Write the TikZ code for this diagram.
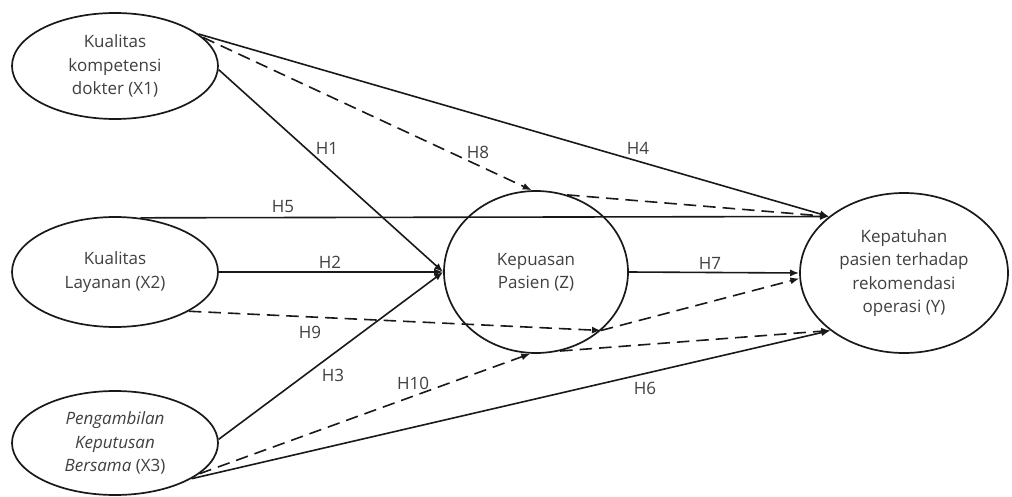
\documentclass[tikz,border=0pt]{standalone}
\usepackage{fontspec}
\setmainfont{Open Sans}
\usetikzlibrary{shapes.geometric,arrows.meta}
\begin{document}
\begin{tikzpicture}[x=1pt,y=-1pt,
  var/.style={draw=black!90, line width=1.7pt, ellipse, inner sep=0pt, align=center,
    text=black!75, font=\fontsize{17}{23.3}\selectfont},
  lab/.style={text=black!75, font=\fontsize{17}{20}\selectfont, inner sep=0pt},
  arr/.style={draw=black!90, line width=1.6pt, -{Latex[length=9pt,width=7pt]}},
  dsh/.style={arr, dash pattern=on 12.5pt off 7pt}]
\useasboundingbox (0,0) rectangle (1012,497);
\fill[white] (0,0) rectangle (1012,497);
% variables
\node[var, minimum width=206pt, minimum height=106pt] (X1) at (115,66) {Kualitas\\kompetensi\\dokter (X1)};
\node[var, minimum width=206pt, minimum height=110pt] (X2) at (115,272) {Kualitas\\Layanan (X2)};
\node[var, minimum width=206pt, minimum height=104pt] (X3) at (115,443) {\itshape Pengambilan\\\itshape Keputusan\\\itshape Bersama\upshape{} (X3)};
\node[var, minimum width=184pt, minimum height=162pt] (Z) at (536,272) {Kepuasan\\Pasien (Z)};
\node[var, minimum width=208pt, minimum height=160pt] (Y) at (904,273) {Kepatuhan\\pasien terhadap\\rekomendasi\\operasi (Y)};
% connectors
\draw[arr] (X1.-2) -- (Z.180);
\draw[dsh] (X1.18) -- (Z.93);
\draw[arr] (X1.21) -- (Y.143.6);
\draw[arr] (X2.65) -- (Y.143.6);
\draw[dsh] (Z.68) -- (Y.143.6);
\draw[arr] (X2.0) -- (Z.180);
\draw[arr] (X3.2) -- (Z.180);
\draw[arr] (Z.0) -- (Y.180);
\draw[dsh] (X2.-28) -- (Z.-42);
\draw[dsh] (Z.-42) -- (Y.183);
\draw[dsh] (X3.-20) -- (Z.-94);
\draw[dsh] (Z.-73) -- (Y.218.6);
\draw[arr] (X3.-25) -- (Y.218.6);
% labels
\node[lab] (h1) at (327,148) {H1};
\node[lab] (h8) at (478,152) {H8};
\node[lab] (h4) at (638,148) {H4};
\node[lab] (h5) at (283,207) {H5};
\node[lab] (h2) at (330,262) {H2};
\node[lab] (h7) at (710,263) {H7};
\node[lab] (h9) at (310,332) {H9};
\node[lab] (h3) at (333,375) {H3};
\node[lab] (h10) at (413,383) {H10};
\node[lab] (h6) at (645,388) {H6};
\end{tikzpicture}
\end{document}
